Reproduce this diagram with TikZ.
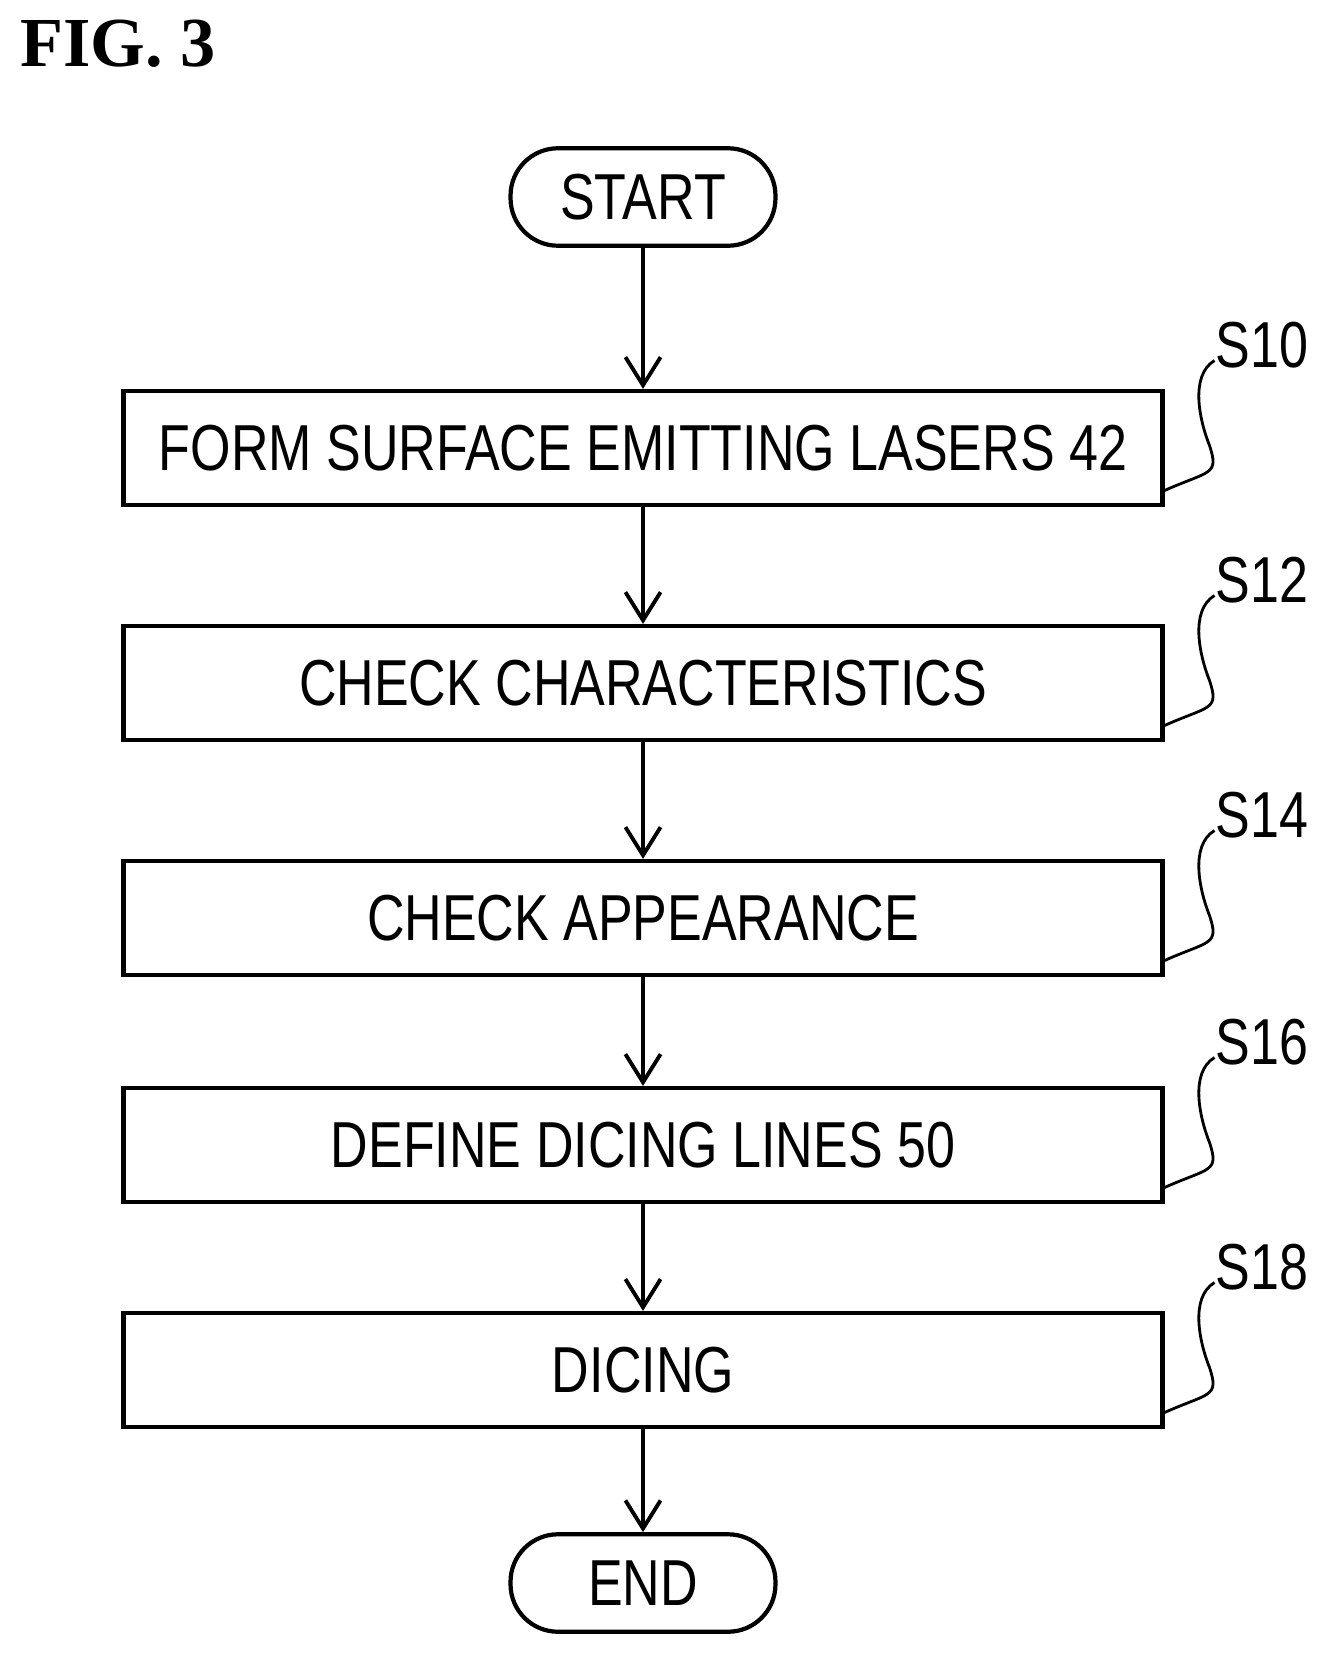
\documentclass[tikz,border=0pt]{standalone}
\usepackage{fontspec}
\setmainfont{Liberation Serif}
\setsansfont{Liberation Sans}
\usetikzlibrary{arrows.meta,positioning}
\newcommand{\steptext}[1]{\scalebox{0.8}[1]{#1}}
\tikzset{
  procbox/.style={draw, line width=2.4pt, minimum width=20.78cm, minimum height=2.28cm, font=\sffamily\fontsize{37}{40}\selectfont},
  term/.style={draw, line width=2.4pt, rounded corners=0.95cm, minimum width=5.3cm, minimum height=1.95cm, font=\sffamily\fontsize{37}{40}\selectfont},
  flow/.style={line width=2.2pt, -{Straight Barb[length=16pt,width=20pt,line width=2.2pt]}},
  lead/.style={line width=1.6pt},
  tag/.style={font=\sffamily\fontsize{37}{40}\selectfont, anchor=west}
}
\begin{document}
\begin{tikzpicture}[x=0.02cm, y=-0.02cm]
        \useasboundingbox (0,0) rectangle (1342,1659);

        \node [font=\bfseries\fontsize{40}{44}\selectfont, anchor=north west] (fig) at (14,14) {FIG. 3};

        \node [term] (start) at (643,197) {\steptext{START}};
        \node [procbox] (s10) at (643,448) {\steptext{FORM SURFACE EMITTING LASERS 42}};
        \node [procbox] (s12) at (643,683) {\steptext{CHECK CHARACTERISTICS}};
        \node [procbox] (s14) at (643,918) {\steptext{CHECK APPEARANCE}};
        \node [procbox] (s16) at (643,1145) {\steptext{DEFINE DICING LINES 50}};
        \node [procbox] (s18) at (643,1370) {\steptext{DICING}};
        \node [term] (end) at (643,1583) {\steptext{END}};

        \draw [flow] (start) -- (s10);
        \draw [flow] (s10) -- (s12);
        \draw [flow] (s12) -- (s14);
        \draw [flow] (s14) -- (s16);
        \draw [flow] (s16) -- (s18);
        \draw [flow] (s18) -- (end);

        % step labels with wavy leaders
        \foreach \s/\t in {s10/S10, s12/S12, s14/S14, s16/S16, s18/S18} {
            \draw [lead] ([yshift=-0.85cm]\s.east) .. controls +(0.9cm,0.4cm) and +(0.2cm,-0.6cm) .. ++(0.9cm,0.9cm)
                .. controls +(-0.2cm,0.5cm) and +(-0.5cm,-0.3cm) .. ++(0.1cm,1.7cm) coordinate (\s-tip);
            \node [tag] (\s-lab) at ([xshift=-0.1cm,yshift=0.3cm]\s-tip) {\steptext{\t}};
        }
    \end{tikzpicture}
\end{document}
